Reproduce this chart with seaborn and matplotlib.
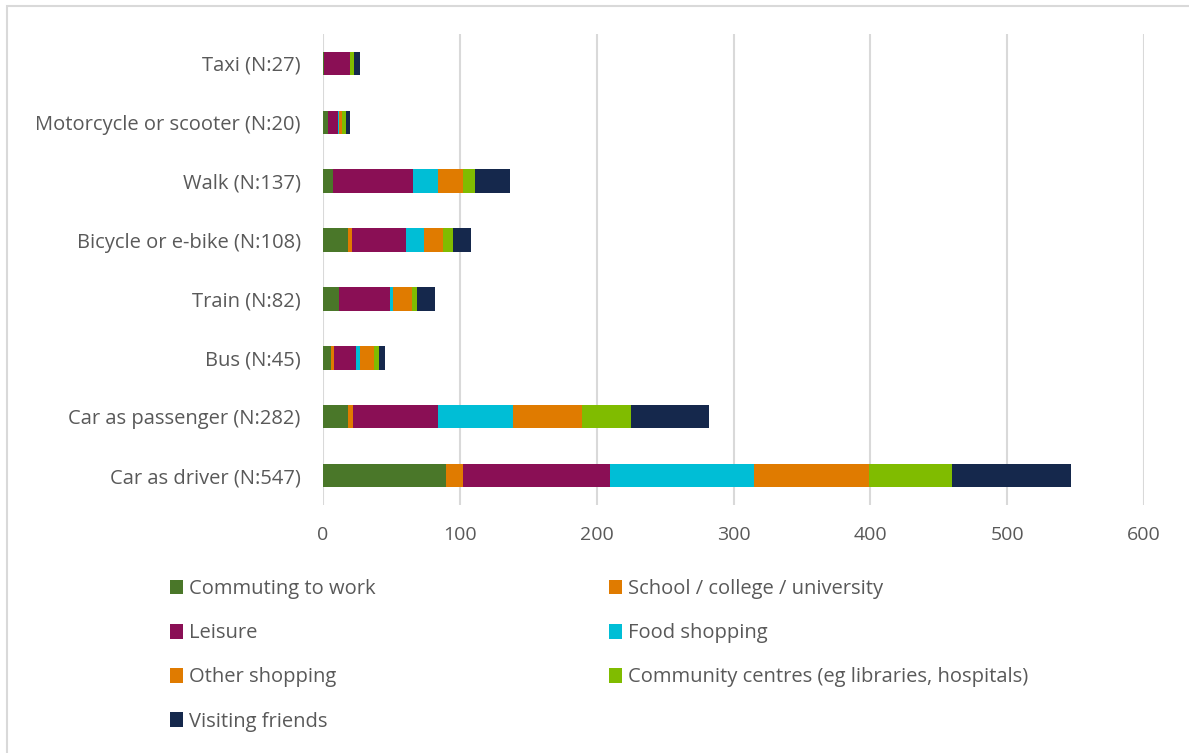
import matplotlib
matplotlib.use("Agg")
import matplotlib.pyplot as plt
import matplotlib.patches as mpatches
import numpy as np
import pandas as pd
import seaborn as sns

# Travel mode categories (top to bottom)
modes = [
    "Taxi (N:27)",
    "Motorcycle or scooter (N:20)",
    "Walk (N:137)",
    "Bicycle or e-bike (N:108)",
    "Train (N:82)",
    "Bus (N:45)",
    "Car as passenger (N:282)",
    "Car as driver (N:547)",
]

# Trip purposes (stacking order, left to right)
purposes = [
    "Commuting to work",
    "School / college / university",
    "Leisure",
    "Food shopping",
    "Other shopping",
    "Community centres (eg libraries, hospitals)",
    "Visiting friends",
]

commuting = [1, 4, 7, 18, 12, 6, 18, 90]
school = [0, 0, 0, 3, 0, 2, 4, 12]
leisure = [19, 7, 59, 40, 37, 16, 62, 108]
food_shopping = [0, 1, 18, 13, 2, 3, 55, 105]
other_shopping = [0, 2, 18, 14, 14, 10, 50, 84]
community = [3, 3, 9, 7, 4, 4, 36, 61]
visiting = [4, 3, 26, 13, 13, 4, 57, 87]

colors = ["#4A7729", "#E07B00", "#8A0F55", "#00BED6",
          "#E07B00", "#80BC00", "#15284C"]

df = pd.DataFrame(
    {
        purposes[0]: commuting,
        purposes[1]: school,
        purposes[2]: leisure,
        purposes[3]: food_shopping,
        purposes[4]: other_shopping,
        purposes[5]: community,
        purposes[6]: visiting,
    },
    index=modes,
)
cum = df.cumsum(axis=1)

sns.set_theme(style="white")
plt.rcParams["font.family"] = ["Open Sans", "DejaVu Sans"]

W, H = 1189, 753
fig = plt.figure(figsize=(W / 100, H / 100), dpi=100)
ax = fig.add_axes([323 / W, 1 - 505 / H, (1144 - 323) / W, (505 - 34) / H])

# Stacked bars: draw cumulative totals from the outermost segment inwards
for purpose, color in reversed(list(zip(purposes, colors))):
    sns.barplot(
        x=cum[purpose].values,
        y=modes,
        order=modes,
        color=color,
        width=0.4,
        saturation=1,
        orient="h",
        ax=ax,
        edgecolor="none",
        linewidth=0,
        zorder=3,
    )

ax.set_xlim(0, 600)
ax.set_ylim(7.5, -0.5)
ax.set_xticks(np.arange(0, 601, 100))
ax.xaxis.grid(True, color="#D9D9D9", linewidth=1.5, zorder=0)
ax.yaxis.grid(False)
for s in ax.spines.values():
    s.set_visible(False)
ax.set_xlabel("")
ax.set_ylabel("")
ax.tick_params(axis="x", length=0, pad=15, labelsize=14, labelcolor="#595959")
ax.tick_params(axis="y", length=0, pad=16, labelsize=14.5, labelcolor="#595959")

# Legend in two columns below the plot
handles = [mpatches.Patch(facecolor=c, edgecolor="none") for c in colors]
left_idx = [0, 2, 4, 6]
right_idx = [1, 3, 5]
common = dict(
    frameon=False,
    fontsize=14.5,
    labelcolor="#595959",
    handlelength=0.65,
    handleheight=0.75,
    handletextpad=0.3,
    labelspacing=1.2,
    borderpad=0,
    borderaxespad=0,
)
leg1 = fig.legend(
    [handles[i] for i in left_idx],
    [purposes[i] for i in left_idx],
    loc="upper left",
    bbox_to_anchor=(170 / W, 1 - 579 / H),
    **common,
)
leg2 = fig.legend(
    [handles[i] for i in right_idx],
    [purposes[i] for i in right_idx],
    loc="upper left",
    bbox_to_anchor=(609 / W, 1 - 579 / H),
    **common,
)

# Light chart border
fig.patches.append(
    mpatches.Rectangle(
        (7 / W, -0.05), 1.1, 1 - 6 / H + 0.05,
        transform=fig.transFigure, fill=False,
        edgecolor="#D9D9D9", linewidth=1.5,
    )
)

fig.savefig("out.png", dpi=100)
